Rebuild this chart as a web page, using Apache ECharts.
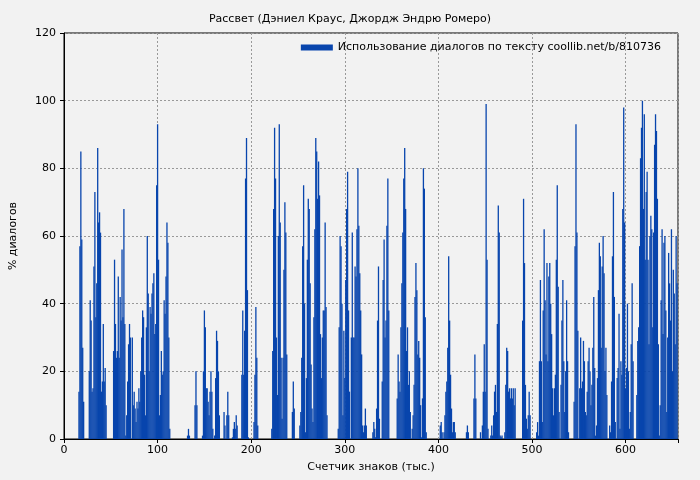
<!DOCTYPE html>
<html>
<head>
<meta charset="utf-8">
<script src="https://cdn.jsdelivr.net/npm/echarts@6/dist/echarts.min.js"></script>
<style>
	html, body { margin: 0; padding: 0; background: #f2f2f2; }
	#chart { width: 700px; height: 480px; }
</style>
</head>
<body>
<div id="chart"></div>
<script>
// each segment: first x (тыс. знаков) and the bar values that follow it
var seg1Start = 16;
var seg1 = [14,57,85,59,27,11,0,0,0,0,0,20,41,35,14,15,51,73,36,46,86,64,67,61,14,17,34,17,21,10,0,0,0,0,0,0,0,26,53,34,24,26,48,24,42,35,56,36,68,34,1,7,17,28,34,30];
var seg2Start = 73;
var seg2 = [30,10,14,9,5,11,9,15,11,20,30,38,36,19,7,33,60,43,20,39,37,43,46,49,31,34,75,93,53,7,13,26,19,20,41,37,48,64,58,30,3];
var seg3Start = 132;
var seg3 = [1,3,1,0,0,0,0,0,10,20,10,0,0,0,0,0,1,20,38,33,15,15,11,7,14,20,14,3,0,1,18,32,29,20,7,0,0,0,0,8,4,0,7,14,7,0,0,0,0.5,3,5,3,7,4,0,0,0,0,19,38,19,32,77,89,44,0.5,0,0,0,0,0,5,19,39,24,4];
var seg4Start = 222;
var seg4 = [3,26,68,92,77,30,13,60,93,64,24,6,24,50,70,61,25,0,0,0,0,0,8,17,9,0,0,0,0,0,4,8,24,57,75,40,2,18,53,71,68,46,22,9,5,36,62,89,85,71,82,72,31,18,30,38,38,64,39,7,0,0,0,0,0,0,0,0,0,0,0,3,33,60,57];
var seg5Start = 297;
var seg5 = [40,7,32,18,47,68,79,38,14,0,30,61,30,30,51,48,62,80,63,49,38,25,4,2,4,9,4,0,0,0,0,0,0,2,5,3,0.5,9,35,51,6,0,0,17,47,59,30,35,63,77,38,0,0,0,0,0,0,0,0,12,25,17,14,33,46,61,77,86,68,26,33,16,20,8,0,3,7,16,42,52,44,25,29,24,10,0.5,12,80,74,36,2];
var seg6Start = 402;
var seg6 = [4,5,2,0,2,7,14,17,27,54,35,19,9,2,5,5,2,0,0,0,0,0,0,0,0,0,0,0,2,4,2,0,0,0,0,0,12,25,12,0,0,0,0,2,0,4,14,28,14,99,53,3,0,0,1,4,1,7,14,16,8,34,69,61,1,0.5,1,0,0,2,16,27,26,14,15,12,15,12,15,10,15,0,0,0,0,0,0,0,35,71,52,16,6,3,7,14,7,0,0,0,0,0,0,2,5,1,23,47,23,5,38,62,41,25,52,23,48,52];
var seg7Start = 520;
var seg7 = [40,31,15,7,15,19,53,75,45,8,0,16,35,47,23,8,20,41,23,2,0,0,0,0,0,11,57,93,61,32,0,15,30,15,17,29,23,8,7,14,23,27,20,10,16,27,42,21,1,4,18,44,58,54,27,51,60,49,20,27,13,0,0,4,2,17,54,73,42,5,0,18];
var seg8Start = 592;
var seg8 = [21,37,3,23,19,68,98,64,15,21,40,20,3,8,28,46,23,0,0,0,13,29,33,57,83,92,100,68,96,53,73,79,53,28,60,66,62,33,61,87,96,91,71,28,1,10,41,62,31,58,60,38,8,30,55,46,35,62,20,50,43,28,60,46];

var yTicks = [0,20,40,60,80,100,120];
var xTicks = [0,100,200,300,400,500,600];

var segs = [[seg1Start,seg1],[seg2Start,seg2],[seg3Start,seg3],[seg4Start,seg4],[seg5Start,seg5],[seg6Start,seg6],[seg7Start,seg7],[seg8Start,seg8]];
var data = [];
for (var s = 0; s < segs.length; s++) {
	for (var i = 0; i < segs[s][1].length; i++) {
		if (segs[s][1][i] > 0) data.push([segs[s][0] + i, segs[s][1][i]]);
	}
}

var myChart = echarts.init(document.getElementById('chart'));
var font = 'DejaVu Sans';
var option = {
	backgroundColor: '#f2f2f2',
	animation: false,
	textStyle: { fontFamily: font },
	title: {
		text: 'Рассвет (Дэниел Краус, Джордж Эндрю Ромеро)',
		left: 'center',
		top: 9,
		textStyle: { fontSize: 11, fontWeight: 'normal', color: '#000', fontFamily: font }
	},
	legend: {
		right: 34,
		top: 37,
		itemWidth: 32,
		itemHeight: 6,
		itemGap: 6,
		icon: 'rect',
		textStyle: { fontSize: 11, color: '#000', fontFamily: font },
		data: ['Использование диалогов по тексту coollib.net/b/810736']
	},
	grid: {
		left: 61, right: 22, top: 33, bottom: 41,
		show: true, borderColor: '#000', borderWidth: 1, backgroundColor: 'transparent'
	},
	xAxis: {
		type: 'value',
		min: 0, max: 656, interval: 100,
		name: 'Счетчик знаков (тыс.)',
		nameLocation: 'middle', nameGap: 23,
		nameTextStyle: { fontSize: 11, color: '#000' },
		axisLine: { lineStyle: { color: '#000' } },
		axisTick: { show: true, length: 4, lineStyle: { color: '#000' } },
		axisLabel: { fontSize: 11, color: '#000', margin: 6,
			formatter: function (v) { return xTicks.indexOf(v) >= 0 ? v : ''; } },
		splitLine: { show: true, lineStyle: { color: '#999', type: [2, 2] } }
	},
	yAxis: {
		type: 'value',
		min: 0, max: 120, interval: 20,
		name: '% диалогов',
		nameLocation: 'middle', nameGap: 45,
		nameTextStyle: { fontSize: 11, color: '#000' },
		axisLine: { show: true, lineStyle: { color: '#000' } },
		axisTick: { show: true, length: 4, lineStyle: { color: '#000' } },
		axisLabel: { fontSize: 11, color: '#000', margin: 8,
			formatter: function (v) { return yTicks.indexOf(v) >= 0 ? v : ''; } },
		splitLine: { show: true, lineStyle: { color: '#999', type: [2, 2] } }
	},
	series: [{
		name: 'Использование диалогов по тексту coollib.net/b/810736',
		type: 'bar',
		barWidth: 1.3,
		itemStyle: { color: '#0845ad' },
		data: data
	}]
};
myChart.setOption(option, true);
</script>
</body>
</html>
